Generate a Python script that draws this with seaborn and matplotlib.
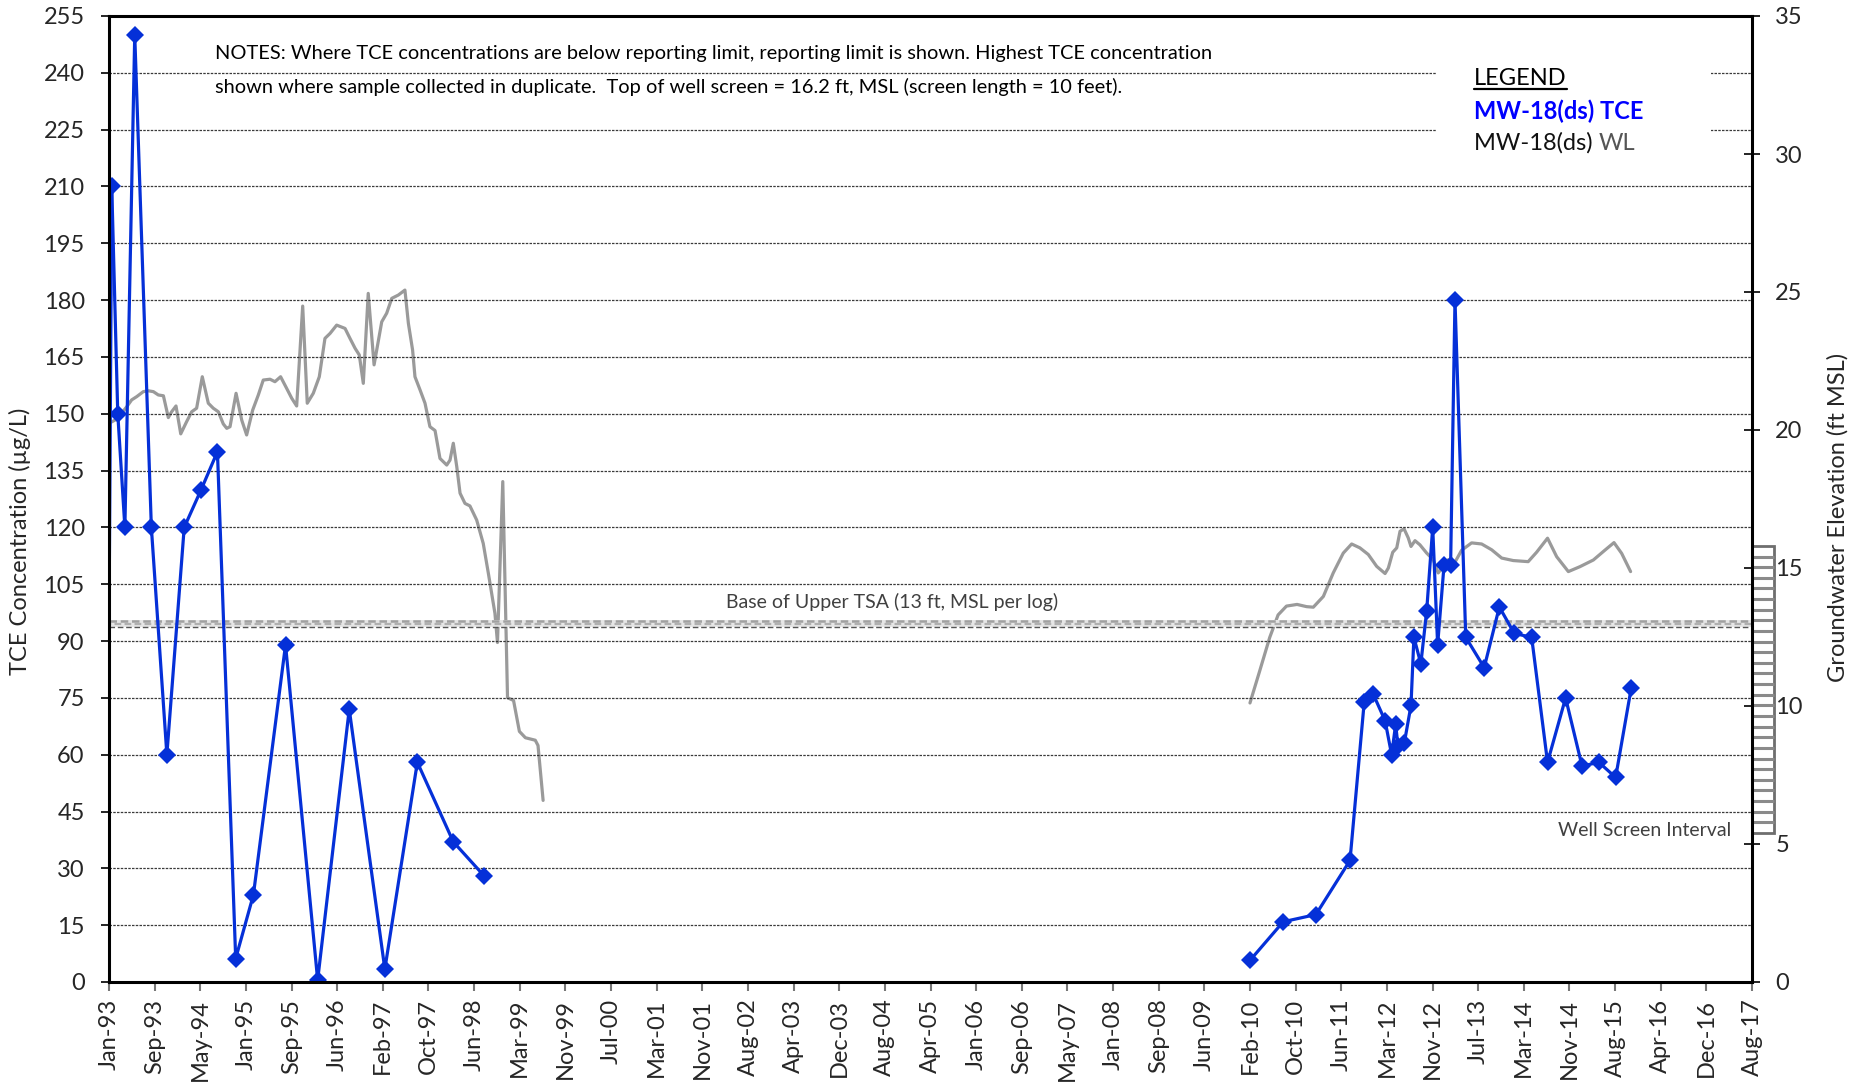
import numpy as np
import pandas as pd
import matplotlib
matplotlib.use("Agg")
import matplotlib.pyplot as plt
import matplotlib.dates as mdates
from matplotlib.patches import Rectangle
from matplotlib.lines import Line2D
import seaborn as sns

# ---------------------------------------------------------------- data
# lead-in of the TCE trace at the left edge of the date axis (no marker drawn)
tce_lead_dates = ["1993-01-01", "1993-01-16"]
tce_lead_values = [94, 210]

# MW-18(ds) TCE concentrations (ug/L), first monitoring period
tce_dates_early = ["1993-01-16", "1993-02-18", "1993-03-29", "1993-05-22",
                   "1993-08-21", "1993-11-14", "1994-02-17", "1994-05-21", "1994-08-18",
                   "1994-11-26", "1995-03-03", "1995-08-26", "1996-02-18", "1996-08-09",
                   "1997-02-20", "1997-08-17", "1998-03-02", "1998-08-18"]
tce_values_early = [210, 150, 120, 250, 120, 60, 120, 130, 140,
                    6.2, 23, 89, 0.5, 72, 3.4, 58, 37, 28]

# MW-18(ds) TCE concentrations (ug/L), resumed monitoring
tce_dates_late = ["2010-02-11", "2010-08-12", "2011-02-07", "2011-08-13", "2011-10-30",
                  "2011-12-18", "2012-02-21", "2012-03-28", "2012-04-19", "2012-05-02",
                  "2012-06-05", "2012-07-12", "2012-07-28", "2012-09-04", "2012-10-06",
                  "2012-11-08", "2012-12-05", "2013-01-09", "2013-02-14", "2013-03-10",
                  "2013-05-08", "2013-08-17", "2013-11-08", "2014-01-29", "2014-05-04",
                  "2014-07-30", "2014-11-06", "2015-02-04", "2015-05-07", "2015-08-07",
                  "2015-10-31"]
tce_values_late = [5.7, 15.9, 17.8, 32.1, 74, 76, 69, 60, 68, 62.2,
                   63, 73, 91, 84, 98, 120, 89, 110, 110, 180,
                   91, 83, 99, 92, 91, 58, 75, 57, 58, 54, 77.5]

# Groundwater elevation (ft MSL); days counted from 1 Jan 1993
wl_day_early = [5, 33, 60, 97, 124, 152, 188, 215, 243, 270, 298, 325, 343, 367, 393,
                425, 453, 480, 511, 544, 571, 599, 626, 645, 663, 696, 727, 754, 787,
                818, 845, 882, 909, 940, 973, 1001, 1028, 1061, 1086, 1119, 1152, 1183,
                1211, 1247, 1293, 1320, 1348, 1371, 1393, 1420, 1452, 1494, 1521, 1549,
                1585, 1621, 1640, 1663, 1676, 1704, 1731, 1758, 1786, 1813, 1850, 1868,
                1886, 1905, 1923, 1950, 1977, 2014, 2050, 2078, 2114, 2128, 2157, 2183,
                2216, 2248, 2281, 2335, 2350, 2378]
wl_ft_early = [20.26, 20.36, 20.54, 20.84, 21.09, 21.21, 21.39, 21.42, 21.39, 21.27,
               21.24, 20.45, 20.66, 20.87, 19.86, 20.30, 20.66, 20.79, 21.93, 20.97,
               20.79, 20.66, 20.22, 20.06, 20.12, 21.33, 20.36, 19.82, 20.72, 21.27,
               21.81, 21.84, 21.75, 21.93, 21.51, 21.15, 20.87, 24.49, 20.97, 21.33,
               21.93, 23.32, 23.50, 23.80, 23.68, 23.32, 22.96, 22.72, 21.69, 24.95,
               22.36, 23.92, 24.23, 24.77, 24.89, 25.07, 23.86, 22.90, 21.93, 21.45,
               20.97, 20.12, 19.98, 18.97, 18.73, 18.91, 19.52, 18.67, 17.71, 17.34,
               17.25, 16.74, 15.89, 14.81, 13.36, 12.30, 18.13, 10.30, 10.20, 9.08,
               8.85, 8.76, 8.57, 6.58]

wl_day_late = [6250, 6301, 6358, 6404, 6450, 6508, 6560, 6597, 6652, 6706, 6761, 6807,
               6852, 6898, 6944, 6990, 7008, 7032, 7054, 7072, 7094, 7117, 7132, 7154,
               7181, 7218, 7254, 7281, 7309, 7336, 7373, 7409, 7464, 7519, 7574, 7629,
               7692, 7774, 7820, 7880, 7930, 7994, 8058, 8131, 8195, 8244, 8286, 8335]
wl_ft_late = [10.11, 11.22, 12.48, 13.30, 13.62, 13.68, 13.60, 13.58, 13.97, 14.82,
              15.54, 15.87, 15.73, 15.49, 15.06, 14.80, 15.00, 15.57, 15.73, 16.33,
              16.42, 16.09, 15.78, 15.99, 15.84, 15.54, 15.30, 14.82, 15.06, 15.30,
              15.21, 15.64, 15.91, 15.87, 15.66, 15.36, 15.27, 15.23, 15.57, 16.08,
              15.41, 14.87, 15.05, 15.29, 15.65, 15.92, 15.53, 14.87]

record_start = "1993-01-01"
base_upper_tsa_ft = 13.0
screen_bottom_ft, screen_top_ft = 5.4, 15.8

left_ticks = list(range(0, 256, 15))
right_ticks = list(range(0, 36, 5))

# ---------------------------------------------------------------- frames
start = pd.Timestamp(record_start)
lead_df = pd.DataFrame({"date": pd.to_datetime(tce_lead_dates), "tce": tce_lead_values})
tce_df = pd.concat([
    pd.DataFrame({"date": pd.to_datetime(tce_dates_early), "tce": tce_values_early, "period": 1}),
    pd.DataFrame({"date": pd.to_datetime(tce_dates_late), "tce": tce_values_late, "period": 2}),
], ignore_index=True)
wl_df = pd.concat([
    pd.DataFrame({"date": start + pd.to_timedelta(wl_day_early, unit="D"), "wl": wl_ft_early, "period": 1}),
    pd.DataFrame({"date": start + pd.to_timedelta(wl_day_late, unit="D"), "wl": wl_ft_late, "period": 2}),
], ignore_index=True)

# ---------------------------------------------------------------- style
sns.set_style("white")
plt.rcParams["font.family"] = ["Lato", "DejaVu Sans"]
plt.rcParams["axes.unicode_minus"] = False

BLUE = "#0530D8"
GRAY = "#9A9A9A"
W, H = 1859, 1086
TICK_FS = 17
LEG_FS = 17
NOTE_FS = 14.4
LABEL_FS = 17

fig = plt.figure(figsize=(W / 100, H / 100), dpi=100)
ax = fig.add_axes([109 / W, (H - 982) / H, 1643 / W, 966 / H])
ax2 = ax.twinx()
ax.set_zorder(ax2.get_zorder() + 1)
ax.patch.set_visible(False)

# water levels on the secondary axis
sns.lineplot(data=wl_df, x="date", y="wl", units="period", estimator=None,
             color=GRAY, linewidth=2.3, ax=ax2, legend=False)

# TCE concentrations on the primary axis
sns.lineplot(data=lead_df, x="date", y="tce", color=BLUE, linewidth=2.3,
             ax=ax, legend=False)
sns.lineplot(data=tce_df, x="date", y="tce", units="period", estimator=None,
             color=BLUE, linewidth=2.3, marker="D", markersize=8.8,
             markeredgecolor=BLUE, markerfacecolor=BLUE, markeredgewidth=0,
             ax=ax, legend=False)

# ---------------------------------------------------------------- axes
x0 = mdates.date2num(start)
ax.set_xlim(x0, x0 + 9000)
ax.set_xticks([x0 + 250 * k for k in range(37)])
ax.xaxis.set_major_formatter(mdates.DateFormatter("%b-%y"))
ax.set_ylim(0, 255)
ax.set_yticks(left_ticks)
ax2.set_ylim(0, 35)
ax2.set_yticks(right_ticks)

ax.set_axisbelow(True)
ax.yaxis.grid(True, linestyle=(0, (2, 1)), linewidth=0.9, color="#3a3a3a")
ax.xaxis.grid(False)
ax2.grid(False)

for side in ["left", "right", "top", "bottom"]:
    ax.spines[side].set_visible(True)
    ax.spines[side].set_color("black")
    ax.spines[side].set_linewidth(2.2)
    ax2.spines[side].set_visible(False)

ax.tick_params(axis="y", which="major", direction="out", length=6, width=1.2,
               color="black", labelsize=TICK_FS, pad=11.5, left=True, right=False)
ax.tick_params(axis="x", which="major", direction="out", length=6.5, width=1.5,
               color="#777777", labelsize=TICK_FS, pad=5.5, bottom=True, labelrotation=90)
ax2.tick_params(axis="y", which="major", direction="inout", length=11.5, width=1.2,
                color="black", labelsize=TICK_FS, pad=11, right=True)

ax.set_xlabel("")
ax2.set_xlabel("")
ax.set_ylabel("TCE Concentration (\u00b5g/L)", fontsize=LABEL_FS, va="center")
ax.yaxis.set_label_coords((20 - 109) / 1643, 0.4565)
ax2.set_ylabel("Groundwater Elevation (ft MSL)", fontsize=LABEL_FS, va="center", rotation=90)
ax2.yaxis.set_label_coords((1838 - 109) / 1643, 0.481)

# ---------------------------------------------------------------- annotations
yax2 = ax2.get_yaxis_transform()
band_end = (1774 - 109) / 1643

# base of upper TSA band
ax2.add_patch(Rectangle((0, base_upper_tsa_ft - 0.12), band_end, 0.24, transform=yax2,
                        facecolor="#e6e6e6", edgecolor="none", clip_on=False, zorder=3))
ax2.plot([0, band_end], [base_upper_tsa_ft + 0.08] * 2, transform=yax2, color="#a0a0a0",
         linewidth=1.8, linestyle=(0, (3, 1.5)), clip_on=False, zorder=4)
ax2.plot([0, band_end], [base_upper_tsa_ft - 0.02] * 2, transform=yax2, color="#b0b0b0",
         linewidth=1.6, linestyle=(2, (3, 1.5)), clip_on=False, zorder=4)
ax2.plot([0, band_end], [base_upper_tsa_ft - 0.12] * 2, transform=yax2, color="#555555",
         linewidth=1.0, linestyle=(0, (4, 2)), clip_on=False, zorder=4)
ax.text((892 - 109) / 1643, (982 - 602) / 966, "Base of Upper TSA (13 ft, MSL per log)",
        transform=ax.transAxes, ha="center", va="center", fontsize=14, color="#404040")

# well screen interval column next to the right axis
col_w = 22 / 1643
ax2.add_patch(Rectangle((1.0, screen_bottom_ft), col_w, screen_top_ft - screen_bottom_ft,
                        transform=yax2, facecolor="white", edgecolor="#6e6e6e",
                        linewidth=2, clip_on=False, zorder=5))
stripes = np.linspace(screen_bottom_ft, screen_top_ft, 28)[1:-1]
ax2.hlines(stripes, 1.0, 1.0 + col_w, transform=yax2, colors="#8a8a8a",
           linewidth=2.2, clip_on=False, zorder=6)
ax.text((1731 - 109) / 1643, (982 - 831) / 966, "Well Screen Interval",
        transform=ax.transAxes, ha="right", va="center", fontsize=14, color="#404040")

# notes
ax.text((215 - 109) / 1643, (982 - 54) / 966,
        "NOTES: Where TCE concentrations are below reporting limit, reporting limit is shown. "
        "Highest TCE concentration", transform=ax.transAxes, ha="left", va="center",
        fontsize=NOTE_FS, color="black")
ax.text((215 - 109) / 1643, (982 - 87) / 966,
        "shown where sample collected in duplicate.  Top of well screen = 16.2 ft, MSL "
        "(screen length = 10 feet).", transform=ax.transAxes, ha="left", va="center",
        fontsize=NOTE_FS, color="black")

# legend block
ax.add_patch(Rectangle(((1437 - 109) / 1643, (982 - 160) / 966), (1711 - 1437) / 1643,
                       125 / 966, transform=ax.transAxes, facecolor="white",
                       edgecolor="none", zorder=1))
lx = (1474 - 109) / 1643
t_leg = ax.text(lx, (982 - 85) / 966, "LEGEND", transform=ax.transAxes, ha="left",
                va="baseline", fontsize=LEG_FS, color="black", zorder=3)
ax.text(lx, (982 - 111) / 966, "MW-18(ds) TCE", transform=ax.transAxes, ha="left",
        va="center", fontsize=LEG_FS, color="#0000FF", fontweight="bold", zorder=3)
t_wl = ax.text(lx, (982 - 143) / 966, "MW-18(ds) ", transform=ax.transAxes, ha="left",
               va="center", fontsize=LEG_FS, color="#111111", zorder=3)

fig.canvas.draw()
renderer = fig.canvas.get_renderer()
bb = t_wl.get_window_extent(renderer)
wl_x = ax.transAxes.inverted().transform((bb.x1, 0))[0]
ax.text(wl_x, (982 - 143) / 966, "WL", transform=ax.transAxes, ha="left", va="center",
        fontsize=LEG_FS, color="#555555", zorder=3)
bb = t_leg.get_window_extent(renderer)
uy = H - 89
fig.add_artist(Line2D([bb.x0 / W, bb.x1 / W], [uy / H, uy / H], transform=fig.transFigure,
                      color="black", linewidth=1.6))

fig.savefig("out.png", dpi=100, facecolor="white")
